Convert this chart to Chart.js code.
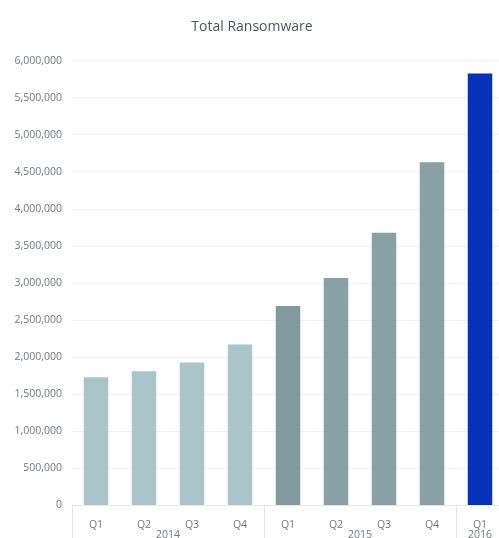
<!DOCTYPE html>
<html>
<head>
<meta charset="utf-8">
<script src="https://cdn.jsdelivr.net/npm/chart.js@4/dist/chart.umd.min.js"></script>
<style>
  html, body { margin: 0; padding: 0; background: #ffffff; overflow: hidden; }
  canvas { display: block; }
</style>
</head>
<body>
<canvas id="c" width="516" height="548"></canvas>
<script>
const chartTitle = 'Total Ransomware';
const quarters = ['Q1', 'Q2', 'Q3', 'Q4', 'Q1', 'Q2', 'Q3', 'Q4', 'Q1'];
const yearLabels = ['2014', '2015', '2016'];
const yearGroupSizes = [4, 4, 1];
const ransomware = [1730000, 1810000, 1930000, 2170000, 2690000, 3070000, 3680000, 4630000, 5830000];
const barColors = ['#a9c4ca', '#a9c4ca', '#a9c4ca', '#a9c4ca', '#82999d', '#89a1a5', '#89a1a5', '#89a1a5', '#0632b9'];
const yMin = 0, yMax = 6000000, yStep = 500000;

const textFont = "'Open Sans', 'Noto Sans', sans-serif";

const yearAxisPlugin = {
  id: 'yearAxis',
  afterDraw(chart) {
    const x = chart.scales.x;
    const area = chart.chartArea;
    const ctx = chart.ctx;
    const half = (x.getPixelForTick(1) - x.getPixelForTick(0)) / 2;
    ctx.save();
    ctx.strokeStyle = '#e4e4e4';
    ctx.lineWidth = 1;
    let start = 0;
    ctx.font = '10.5px ' + textFont;
    ctx.fillStyle = '#6f7580';
    ctx.textAlign = 'center';
    ctx.textBaseline = 'middle';
    yearGroupSizes.forEach((size, g) => {
      const left = x.getPixelForTick(start) - half;
      const right = x.getPixelForTick(start + size - 1) + half;
      const lx = Math.round(left) + 0.5;
      ctx.beginPath();
      ctx.moveTo(lx, area.bottom);
      ctx.lineTo(lx, chart.height);
      ctx.stroke();
      ctx.fillText(yearLabels[g], (left + right) / 2, area.bottom + 30);
      start += size;
    });
    ctx.restore();
  }
};

new Chart(document.getElementById('c'), {
  type: 'bar',
  data: {
    labels: quarters,
    datasets: [{
      label: chartTitle,
      data: ransomware,
      backgroundColor: barColors,
      borderWidth: 0,
      categoryPercentage: 1.0,
      barPercentage: 0.51
    }]
  },
  options: {
    responsive: false,
    devicePixelRatio: 1,
    animation: false,
    layout: { padding: { left: 0, right: 12, top: 0, bottom: 12 } },
    plugins: {
      legend: { display: false },
      tooltip: { enabled: false },
      title: {
        display: true,
        text: chartTitle,
        color: '#4d5563',
        font: { family: textFont, size: 14, weight: 'normal' },
        padding: { top: 19, bottom: 25 }
      }
    },
    scales: {
      x: {
        grid: { display: false },
        border: { display: true, color: '#e8e8e8' },
        ticks: {
          color: '#6f7580',
          font: { family: textFont, size: 10.5 },
          padding: 5,
          maxRotation: 0
        }
      },
      y: {
        min: yMin,
        max: yMax,
        afterFit(scale) { scale.width = 72; },
        grid: { color: '#f0f0f0', drawTicks: false },
        border: { display: false },
        ticks: {
          stepSize: yStep,
          color: '#6f7580',
          font: { family: textFont, size: 10.5 },
          padding: 10,
          callback: v => v.toLocaleString('en-US')
        }
      }
    }
  },
  plugins: [yearAxisPlugin]
});
</script>
</body>
</html>
